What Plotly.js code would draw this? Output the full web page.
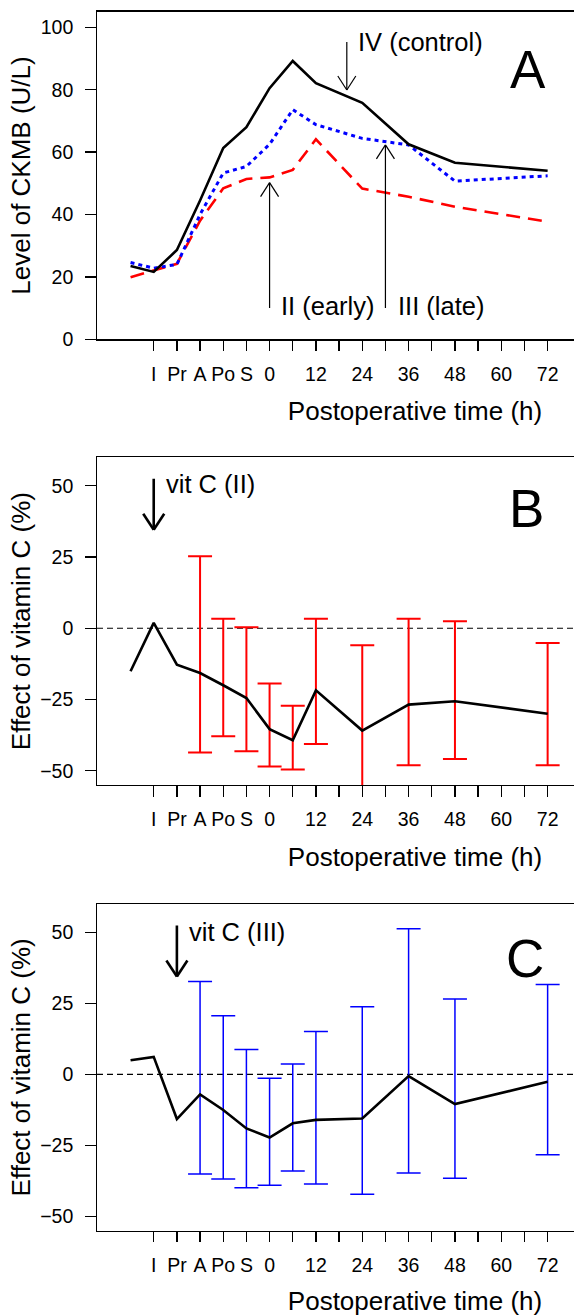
<!DOCTYPE html>
<html><head><meta charset="utf-8">
<script src="https://cdn.plot.ly/plotly-3.0.1.min.js"></script>
<style>html,body{margin:0;padding:0;overflow:hidden;background:#fff;}#chart{width:760px;height:1316px;}</style>
</head><body><div id="chart"></div>
<script>
// x positions (tick index): pre, I, Pr, A, Po, S, 0h, 6h, 12h, 24h, 36h, 48h, 72h
const xPos = [0, 1, 2, 3, 4, 5, 6, 7, 8, 10, 12, 14, 18];
const errX = [3, 4, 5, 6, 7, 8, 10, 12, 14, 18];
const tickVals = [1,2,3,4,5,6,7,8,9,10,11,12,13,14,15,16,17,18];
const tickText = ["I","Pr","A","Po","S","0","","12","","24","","36","","48","","60","","72"];

// Panel A: CKMB level (U/L)
const ckmbControl = [23.5, 21.6, 28.6, 44.5, 61.3, 68.0, 80.5, 89.2, 82.1, 75.8, 62.5, 56.6, 54.0];
const ckmbEarly   = [19.9, 22.1, 24.2, 38.0, 48.4, 51.4, 51.9, 54.3, 64.1, 48.3, 45.7, 42.5, 37.7];
const ckmbLate    = [24.6, 22.8, 24.0, 40.0, 53.3, 55.4, 62.5, 73.6, 68.8, 64.4, 62.3, 50.7, 52.4];

// Panel B: effect of vitamin C (II, early)
const effectEarly      = [-15.1, 1.9, -12.8, -15.7, -20.0, -24.5, -35.4, -39.3, -21.8, -35.9, -26.8, -25.6, -30.0];
const effectEarlyUpper = [25.3, 3.3, 0.4, -19.4, -27.2, 3.3, -6.0, 3.3, 2.5, -5.2];
const effectEarlyLower = [-43.6, -37.9, -43.2, -48.5, -49.6, -40.6, -64.0, -48.1, -45.9, -48.1];

// Panel C: effect of vitamin C (III, late)
const effectLate      = [5.0, 6.2, -15.7, -7.0, -12.5, -19.0, -22.2, -17.2, -16.0, -15.5, -0.6, -10.4, -2.6];
const effectLateUpper = [32.7, 20.7, 8.8, -1.3, 3.7, 15.1, 23.8, 51.3, 26.6, 31.7];
const effectLateLower = [-35.0, -36.8, -39.9, -39.0, -34.0, -38.6, -42.2, -34.7, -36.5, -28.3];

const FONT = "'Liberation Sans', Arial, Helvetica, sans-serif";

function errTrace(center, upper, lower, color, thick, xa, ya) {
  const c = center.slice(xPos.indexOf(errX[0]));
  return {
    x: errX, y: c, type: 'scatter', mode: 'markers', xaxis: xa, yaxis: ya,
    marker: {size: 1, color: 'rgba(0,0,0,0)'}, hoverinfo: 'skip', showlegend: false,
    error_y: {type: 'data', symmetric: false,
      array: upper.map((u, i) => u - c[i]),
      arrayminus: lower.map((l, i) => c[i] - l),
      color: color, thickness: thick, width: 12}
  };
}

const traces = [
  {x: xPos, y: ckmbEarly, type: 'scatter', mode: 'lines', name: 'II (early)', line: {color: '#ff0000', width: 2.6, dash: '14px,8px'}, xaxis: 'x', yaxis: 'y'},
  {x: xPos, y: ckmbLate, type: 'scatter', mode: 'lines', name: 'III (late)', line: {color: '#0000ff', width: 3, dash: '4px,4px'}, xaxis: 'x', yaxis: 'y'},
  {x: xPos, y: ckmbControl, type: 'scatter', mode: 'lines', name: 'IV (control)', line: {color: '#000', width: 2.6}, xaxis: 'x', yaxis: 'y'},
  errTrace(effectEarly, effectEarlyUpper, effectEarlyLower, '#ff0000', 2, 'x2', 'y2'),
  {x: xPos, y: effectEarly, type: 'scatter', mode: 'lines', name: 'vit C (II)', line: {color: '#000', width: 2.6}, xaxis: 'x2', yaxis: 'y2'},
  errTrace(effectLate, effectLateUpper, effectLateLower, '#0000ff', 1.5, 'x3', 'y3'),
  {x: xPos, y: effectLate, type: 'scatter', mode: 'lines', name: 'vit C (III)', line: {color: '#000', width: 2.6}, xaxis: 'x3', yaxis: 'y3'}
];

const xRange = [-1.448, 26.0];
function xax(anchor) {
  return {
    range: xRange, anchor: anchor, domain: [0, 1],
    tickmode: 'array', tickvals: tickVals, ticktext: tickText,
    ticks: 'outside', ticklen: 10.5, tickwidth: 1.3, tickcolor: '#000',
    showline: true, mirror: true, linecolor: '#000', linewidth: 1.3,
    showgrid: false, zeroline: false, ticklabelstandoff: 6,
    tickfont: {family: FONT, size: 19.5, color: '#000'},
    title: {text: 'Postoperative time (h)', font: {family: FONT, size: 26, color: '#000'}, standoff: 18}
  };
}
function yax(anchor, domain, range, tickvals, title) {
  return {
    range: range, anchor: anchor, domain: domain,
    tickmode: 'array', tickvals: tickvals,
    ticks: 'outside', ticklen: 10.5, tickwidth: 1.3, tickcolor: '#000',
    showline: true, mirror: true, linecolor: '#000', linewidth: 1.3,
    showgrid: false, zeroline: false, ticklabelstandoff: 8,
    tickfont: {family: FONT, size: 19.5, color: '#000'},
    title: {text: title, font: {family: FONT, size: 26, color: '#000'}, standoff: 2}
  };
}

function arrow(xr, yr, x, yStart, yTip, halfW, headLen, w) {
  const dir = yTip < yStart ? 1 : -1; // head lines go back toward the start
  const base = {type: 'line', xref: xr, yref: yr, line: {color: '#000', width: w}, layer: 'above'};
  return [
    Object.assign({}, base, {x0: x, x1: x, y0: yStart, y1: yTip}),
    Object.assign({}, base, {xsizemode: 'pixel', xanchor: x, x0: 0, x1: -halfW, ysizemode: 'pixel', yanchor: yTip, y0: 0, y1: dir * headLen}),
    Object.assign({}, base, {xsizemode: 'pixel', xanchor: x, x0: 0, x1: halfW, ysizemode: 'pixel', yanchor: yTip, y0: 0, y1: dir * headLen})
  ];
}

const zeroLine = (xr, yr) => ({type: 'line', xref: xr + ' domain', yref: yr, x0: 0, x1: 1, y0: 0, y1: 0, line: {color: '#000', width: 1.2, dash: '6px,4px'}, layer: 'below'});

const shapes = [].concat(
  arrow('x', 'y', 9.333, 95.3, 79.9, 9, 14, 1.2),
  arrow('x', 'y', 6, 10.0, 50.2, 9, 14, 1.2),
  arrow('x', 'y', 11, 10.0, 62.3, 9, 14, 1.2),
  [zeroLine('x2', 'y2')],
  arrow('x2', 'y2', 1, 52.5, 34.6, 10.5, 16, 2.6),
  [zeroLine('x3', 'y3')],
  arrow('x3', 'y3', 2, 52.4, 34.5, 10.5, 16, 2.6)
);

function txt(xr, yr, x, y, text, size, anchor) {
  return {xref: xr, yref: yr, x: x, y: y, text: text, showarrow: false, xanchor: anchor || 'left', yanchor: 'middle',
    font: {family: FONT, size: size, color: '#000'}};
}

const annotations = [
  txt('x', 'y', 9.75, 95.3, 'IV (control)', 25.5),
  txt('x', 'y', 6.4, 10.7, 'II (early)', 25.5),
  txt('x', 'y', 11.44, 10.7, 'III (late)', 25.5),
  txt('x2', 'y2', 1.45, 50.5, 'vit C (II)', 25.5),
  txt('x3', 'y3', 2.43, 50.1, 'vit C (III)', 25.5),
  txt('x domain', 'y domain', 0.678, 0.825, 'A', 53, 'center'),
  txt('x2 domain', 'y2 domain', 0.675, 0.844, 'B', 53, 'center'),
  txt('x3 domain', 'y3 domain', 0.673, 0.833, 'C', 53, 'center')
];

const layout = {
  width: 760, height: 1316, autosize: false,
  margin: {l: 96.5, r: 26.5, t: 0, b: 0},
  paper_bgcolor: '#fff', plot_bgcolor: '#fff', showlegend: false,
  font: {family: FONT, color: '#000'},
  xaxis: xax('y'), xaxis2: xax('y2'), xaxis3: xax('y3'),
  yaxis: yax('x', [0.74217, 0.99111], [0, 105], [0, 20, 40, 60, 80, 100], 'Level of CKMB (U/L)'),
  yaxis2: yax('x2', [0.40350, 0.65251], [-55, 60], [-50, -25, 0, 25, 50], 'Effect of vitamin C (%)'),
  yaxis3: yax('x3', [0.06482, 0.31307], [-55, 60], [-50, -25, 0, 25, 50], 'Effect of vitamin C (%)'),
  shapes: shapes, annotations: annotations
};

Plotly.newPlot('chart', traces, layout, {staticPlot: true, displayModeBar: false, responsive: false});
</script></body></html>
